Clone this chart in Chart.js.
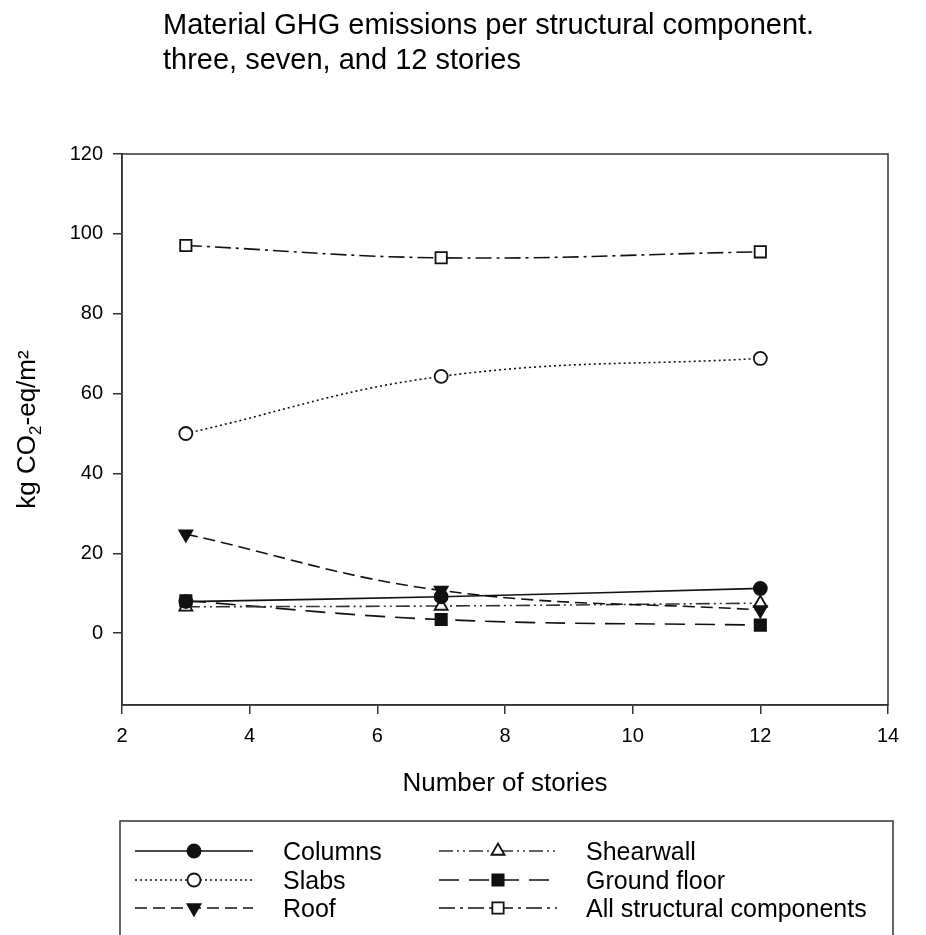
<!DOCTYPE html>
<html>
<head>
<meta charset="utf-8">
<script src="https://cdn.jsdelivr.net/npm/chart.js@4.4.1/dist/chart.umd.min.js"></script>
<style>
  html, body { margin: 0; padding: 0; background: #fff; }
  canvas { display: block; }
</style>
</head>
<body>
<canvas id="graph" width="926" height="935"></canvas>
<script>
// values
const stories = [3, 7, 12];
const columns = [7.9, 9.1, 11.2];
const slabs = [50.0, 64.3, 68.8];
const roof = [24.8, 10.7, 5.8];
const shearwall = [6.6, 6.8, 7.5];
const groundFloor = [8.1, 3.4, 2.0];
const allComponents = [97.1, 94.0, 95.5];
const seriesNames = ["Columns", "Slabs", "Roof", "Shearwall", "Ground floor", "All structural components"];
const xTicks = [2, 4, 6, 8, 10, 12, 14];
const yTicks = [0, 20, 40, 60, 80, 100, 120];

const FONT = "'Liberation Sans', Arial, sans-serif";
const INK = "#111";

function pts(vals) {
  return vals.map((v, i) => ({ x: stories[i], y: v }));
}

function series(name, vals, style) {
  return Object.assign({
    label: name,
    data: pts(vals),
    borderColor: INK,
    borderWidth: 1.6,
    tension: 0.4,
    fill: false,
    pointBorderColor: INK,
    pointBorderWidth: 1.8,
    pointHoverRadius: 7,
    clip: false,
  }, style);
}

const datasets = [
  series(seriesNames[0], columns, { pointStyle: "circle", pointRadius: 6.5, pointBackgroundColor: INK }),
  series(seriesNames[1], slabs, { pointStyle: "circle", pointRadius: 6.5, pointBackgroundColor: "#fff", borderDash: [2, 3] }),
  series(seriesNames[2], roof, { pointStyle: "triangle", pointRotation: 180, pointRadius: 7.5, pointBackgroundColor: INK, borderDash: [12, 6] }),
  series(seriesNames[3], shearwall, { pointStyle: "triangle", pointRadius: 7.5, pointBackgroundColor: "#fff", borderColor: "#333", borderDash: [14, 4, 2, 4, 2, 4] }),
  series(seriesNames[4], groundFloor, { pointStyle: "rect", pointRadius: 8, pointBackgroundColor: INK, borderDash: [20, 10] }),
  series(seriesNames[5], allComponents, { pointStyle: "rect", pointRadius: 8, pointBackgroundColor: "#fff", borderDash: [16, 5, 3, 5] }),
];

// frame, titles and the boxed legend
const decorations = {
  id: "decorations",
  beforeDraw(chart) {
    const ctx = chart.ctx;
    ctx.save();
    ctx.fillStyle = "#fff";
    ctx.fillRect(0, 0, chart.width, chart.height);
    ctx.restore();
  },
  afterDraw(chart) {
    const ctx = chart.ctx;
    const a = chart.chartArea;
    ctx.save();

    ctx.strokeStyle = "#333";
    ctx.lineWidth = 1.5;
    ctx.setLineDash([]);
    ctx.strokeRect(a.left, a.top, a.right - a.left, a.bottom - a.top);

    ctx.fillStyle = "#000";
    ctx.textAlign = "left";
    ctx.textBaseline = "alphabetic";
    ctx.font = "29px " + FONT;
    ctx.fillText("Material GHG emissions per structural component.", 163, 34);
    ctx.fillText("three, seven, and 12 stories", 163, 69);

    ctx.font = "26px " + FONT;
    ctx.textAlign = "center";
    ctx.fillText("Number of stories", (a.left + a.right) / 2, 791);

    // y title with a real subscript
    ctx.save();
    ctx.translate(35, (a.top + a.bottom) / 2);
    ctx.rotate(-Math.PI / 2);
    ctx.textAlign = "left";
    const big = "26px " + FONT, small = "17px " + FONT;
    const p1 = "kg CO", p2 = "2", p3 = "-eq/m\u00B2";
    ctx.font = big; const w1 = ctx.measureText(p1).width, w3 = ctx.measureText(p3).width;
    ctx.font = small; const w2 = ctx.measureText(p2).width;
    let x = -(w1 + w2 + w3) / 2;
    ctx.font = big; ctx.fillText(p1, x, 0); x += w1;
    ctx.font = small; ctx.fillText(p2, x, 6); x += w2;
    ctx.font = big; ctx.fillText(p3, x, 0);
    ctx.restore();

    // legend box
    ctx.strokeStyle = "#333";
    ctx.lineWidth = 1.5;
    ctx.strokeRect(120, 821, 893 - 120, 200);

    const sampleX = [135, 439];
    const textX = [283, 586];
    const rowY = [851, 880, 908];
    chart.data.datasets.forEach((ds, i) => {
      const col = i < 3 ? 0 : 1, row = i % 3;
      const x0 = sampleX[col], y = rowY[row];
      ctx.strokeStyle = ds.borderColor;
      ctx.lineWidth = ds.borderWidth;
      ctx.setLineDash(ds.borderDash || []);
      ctx.beginPath();
      ctx.moveTo(x0, y);
      ctx.lineTo(x0 + 118, y);
      ctx.stroke();
      ctx.setLineDash([]);
      ctx.fillStyle = ds.pointBackgroundColor;
      ctx.strokeStyle = ds.pointBorderColor;
      ctx.lineWidth = ds.pointBorderWidth;
      Chart.helpers.drawPoint(ctx, {
        pointStyle: ds.pointStyle,
        radius: ds.pointRadius,
        rotation: ds.pointRotation || 0,
        borderWidth: ds.pointBorderWidth,
      }, x0 + 59, y);
      ctx.fillStyle = "#000";
      ctx.textAlign = "left";
      ctx.font = "25px " + FONT;
      ctx.fillText(ds.label, textX[col], y + 9);
    });

    ctx.restore();
  },
};

const chart = new Chart(document.getElementById("graph"), {
  type: "line",
  data: { datasets },
  options: {
    responsive: false,
    animation: false,
    devicePixelRatio: 1,
    layout: { padding: { top: 154, right: 38, left: 0, bottom: 0 } },
    plugins: {
      legend: { display: false },
      title: { display: false },
      tooltip: { enabled: false },
    },
    scales: {
      x: {
        type: "linear",
        min: 2,
        max: 14,
        afterBuildTicks: (s) => { s.ticks = xTicks.map((v) => ({ value: v })); },
        afterFit: (s) => { s.height = 230; },
        grid: { drawOnChartArea: false, drawTicks: true, tickLength: 9, color: "#333", lineWidth: 1.5 },
        border: { color: "#333", width: 1.5 },
        ticks: { color: "#000", font: { size: 20, family: FONT }, padding: 10, maxRotation: 0 },
      },
      y: {
        type: "linear",
        min: -18,
        max: 120,
        afterBuildTicks: (s) => { s.ticks = yTicks.map((v) => ({ value: v })); },
        afterFit: (s) => { s.width = 122; },
        grid: { drawOnChartArea: false, drawTicks: true, tickLength: 9, color: "#333", lineWidth: 1.5 },
        border: { color: "#333", width: 1.5 },
        ticks: { color: "#000", font: { size: 20, family: FONT }, padding: 10 },
      },
    },
  },
  plugins: [decorations],
});
</script>
</body>
</html>
